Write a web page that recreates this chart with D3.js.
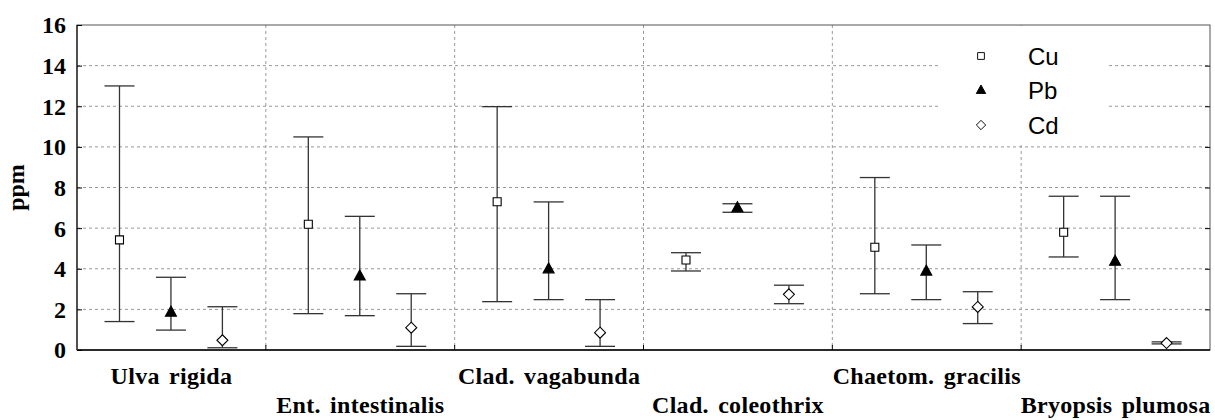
<!DOCTYPE html>
<html>
<head>
<meta charset="utf-8">
<script src="https://cdn.jsdelivr.net/npm/d3@7"></script>
<style>
  body { margin: 0; background: #fff; }
  svg { display: block; }
</style>
</head>
<body>
<div id="chart"></div>
<script>
const species = ["Ulva rigida", "Ent. intestinalis", "Clad. vagabunda", "Clad. coleothrix", "Chaetom. gracilis", "Bryopsis plumosa"];
const metals = ["Cu", "Pb", "Cd"];

// mean, lower, upper per species
const cuMean = [5.42, 6.19, 7.30, 4.43, 5.06, 5.80];
const cuLow  = [1.40, 1.79, 2.38, 3.89, 2.77, 4.58];
const cuHigh = [13.0, 10.49, 11.98, 4.79, 8.49, 7.57];

const pbMean = [1.84, 3.62, 3.97, 6.98, 3.86, 4.35];
const pbLow  = [0.98, 1.69, 2.48, 6.78, 2.48, 2.48];
const pbHigh = [3.58, 6.58, 7.29, 7.20, 5.17, 7.57];

const cdMean = [0.48, 1.10, 0.85, 2.74, 2.12, 0.34];
const cdLow  = [0.11, 0.18, 0.18, 2.28, 1.30, 0.30];
const cdHigh = [2.13, 2.77, 2.48, 3.19, 2.87, 0.40];

const yTicks = [0, 2, 4, 6, 8, 10, 12, 14, 16];

const series = [
  { name: "Cu", mean: cuMean, low: cuLow, high: cuHigh, shape: "square" },
  { name: "Pb", mean: pbMean, low: pbLow, high: pbHigh, shape: "triangle" },
  { name: "Cd", mean: cdMean, low: cdLow, high: cdHigh, shape: "diamond" }
];

const W = 1215, H = 420;
const margin = { top: 25, right: 5, bottom: 70, left: 77 };

const svg = d3.select("#chart").append("svg")
  .attr("width", W).attr("height", H);

const x = d3.scaleBand()
  .domain(species)
  .range([margin.left, W - margin.right]);

const xm = d3.scalePoint()
  .domain(metals)
  .range([0.225, 0.77]);

const y = d3.scaleLinear()
  .domain([0, 16])
  .range([H - margin.bottom, margin.top]);

const serif = '"Liberation Serif", "Times New Roman", serif';
const sans = '"Liberation Sans", Arial, sans-serif';

// grid
svg.append("g").selectAll("line")
  .data(yTicks.slice(1, -1))
  .enter().append("line")
  .attr("x1", margin.left).attr("x2", W - margin.right)
  .attr("y1", d => y(d)).attr("y2", d => y(d))
  .attr("stroke", "#999").attr("stroke-dasharray", "3,3");

svg.append("g").selectAll("line")
  .data(species.slice(1))
  .enter().append("line")
  .attr("x1", d => x(d)).attr("x2", d => x(d))
  .attr("y1", y(16)).attr("y2", y(0))
  .attr("stroke", "#999").attr("stroke-dasharray", "3,3");

// legend background covers grid
const lg = svg.append("g");
lg.append("rect")
  .attr("x", 938).attr("y", y(16) + 1)
  .attr("width", 170).attr("height", 119)
  .attr("fill", "#fff");

// frame
svg.append("rect")
  .attr("x", margin.left).attr("y", y(16))
  .attr("width", W - margin.right - margin.left)
  .attr("height", y(0) - y(16))
  .attr("fill", "none").attr("stroke", "#555").attr("stroke-width", 1);
svg.append("line")
  .attr("x1", margin.left).attr("x2", W - margin.right)
  .attr("y1", y(0)).attr("y2", y(0))
  .attr("stroke", "#000").attr("stroke-width", 1.5);
svg.append("line")
  .attr("x1", margin.left).attr("x2", margin.left)
  .attr("y1", y(0)).attr("y2", y(16))
  .attr("stroke", "#333").attr("stroke-width", 1.5);

// left axis
const yAxis = svg.append("g")
  .attr("transform", `translate(${margin.left},0)`)
  .call(d3.axisRight(y).tickValues(yTicks).tickSize(5).tickFormat(""));
yAxis.select(".domain").remove();
yAxis.selectAll("line").attr("stroke", "#000");

svg.append("g").selectAll("text")
  .data(yTicks)
  .enter().append("text")
  .attr("x", 66).attr("y", d => y(d)).attr("dy", "0.35em")
  .attr("text-anchor", "end")
  .style("font-family", serif).style("font-weight", "bold").style("font-size", "24px")
  .text(d => d);

// right axis ticks
const rAxis = svg.append("g")
  .attr("transform", `translate(${W - margin.right},0)`)
  .call(d3.axisLeft(y).tickValues(yTicks.slice(1, -1)).tickSize(5).tickFormat(""));
rAxis.select(".domain").remove();
rAxis.selectAll("line").attr("stroke", "#000");

// bottom ticks at category boundaries
svg.append("g").selectAll("line")
  .data(species.slice(1))
  .enter().append("line")
  .attr("x1", d => x(d)).attr("x2", d => x(d))
  .attr("y1", y(0)).attr("y2", y(0) - 5)
  .attr("stroke", "#000");

// y label
svg.append("text")
  .attr("transform", `translate(24,${(y(0) + y(16)) / 2}) rotate(-90)`)
  .attr("text-anchor", "middle")
  .style("font-family", serif).style("font-weight", "bold").style("font-size", "24px")
  .text("ppm");

// category labels, alternating rows
svg.append("g").selectAll("text")
  .data(species)
  .enter().append("text")
  .attr("x", d => x(d) + x.bandwidth() / 2)
  .attr("y", (d, i) => i % 2 === 0 ? 384 : 413)
  .attr("text-anchor", "middle")
  .style("font-family", serif).style("font-weight", "bold").style("font-size", "24px")
  .style("letter-spacing", "0.3px").style("word-spacing", "3px")
  .text(d => d);

function markerPath(shape) {
  if (shape === "square") return "M-4,-4H4V4H-4Z";
  if (shape === "triangle") return "M0,-6.5L5.5,3.5H-5.5Z";
  return "M0,-5.5L5.5,0L0,5.5L-5.5,0Z";
}
function markerFill(shape) { return shape === "triangle" ? "#000" : "#fff"; }

const cap = 15;
series.forEach(s => {
  const g = svg.append("g");
  const px = i => x(species[i]) + x.bandwidth() * xm(s.name);
  const idx = d3.range(species.length);

  g.selectAll(".whisk").data(idx).enter().append("line")
    .attr("x1", px).attr("x2", px)
    .attr("y1", i => y(s.low[i])).attr("y2", i => y(s.high[i]))
    .attr("stroke", "#333").attr("stroke-width", 1.3);
  g.selectAll(".capH").data(idx).enter().append("line")
    .attr("x1", i => px(i) - cap).attr("x2", i => px(i) + cap)
    .attr("y1", i => y(s.high[i])).attr("y2", i => y(s.high[i]))
    .attr("stroke", "#333").attr("stroke-width", 1.3);
  g.selectAll(".capL").data(idx).enter().append("line")
    .attr("x1", i => px(i) - cap).attr("x2", i => px(i) + cap)
    .attr("y1", i => y(s.low[i])).attr("y2", i => y(s.low[i]))
    .attr("stroke", "#333").attr("stroke-width", 1.3);
  g.selectAll(".pt").data(idx).enter().append("path")
    .attr("d", markerPath(s.shape))
    .attr("transform", i => `translate(${px(i)},${y(s.mean[i])})`)
    .attr("fill", markerFill(s.shape))
    .attr("stroke", "#000").attr("stroke-width", 1.1);
});

// legend
series.forEach((s, i) => {
  const ly = 56 + i * 34.5;
  lg.append("path")
    .attr("d", markerPath(s.shape))
    .attr("transform", `translate(981,${ly}) scale(0.85)`)
    .attr("fill", markerFill(s.shape))
    .attr("stroke", "#000").attr("stroke-width", 1.1);
  lg.append("text")
    .attr("x", 1028).attr("y", ly).attr("dy", "0.36em")
    .style("font-family", sans).style("font-size", "24px")
    .text(s.name);
});
</script>
</body>
</html>
